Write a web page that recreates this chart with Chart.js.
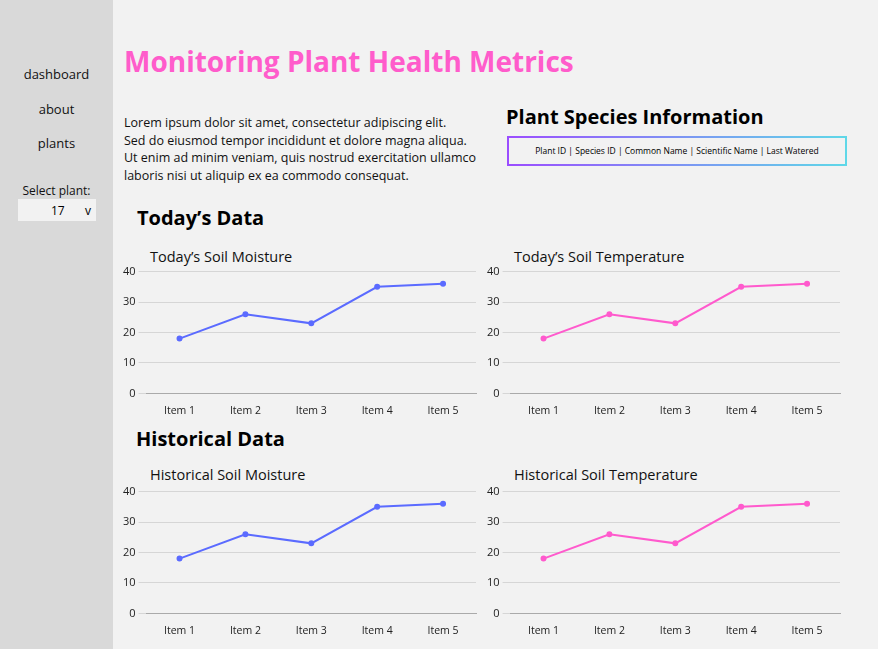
<!DOCTYPE html>
<html>
<head>
<meta charset="utf-8">
<script src="https://cdn.jsdelivr.net/npm/chart.js@4"></script>
<style>
  body { margin: 0; width: 878px; height: 649px; background: #f2f2f2; font-family: "Open Sans", sans-serif; position: relative; overflow: hidden; }
  .side { position: absolute; left: 0; top: 0; width: 113px; height: 649px; background: #d9d9d9; }
  .nav { position: absolute; width: 113px; text-align: center; font-size: 13px; color: #111; }
  .sel { position: absolute; left: 18px; top: 199px; width: 78px; height: 22px; background: #f2f2f2; font-size: 12px; }
  .abs { position: absolute; margin: 0; }
  h1 { font-size: 28px; color: #ff5ccb; font-weight: 700; }
  h2 { font-size: 20px; color: #000; font-weight: 700; }
  .lorem { font-size: 12.5px; line-height: 17.5px; color: #111; }
  .box { position: absolute; left: 507px; top: 136px; width: 340px; height: 30px; border: 2px solid; border-image: linear-gradient(90deg, #9b4dff, #5fd8e8) 1; box-sizing: border-box; font-size: 8.5px; text-align: center; line-height: 26px; }
  .ct { position: absolute; font-size: 14.5px; color: #111; }
  .cw { position: absolute; width: 362px; height: 158px; }
</style>
</head>
<body>
<div class="side"></div>
<div class="nav" style="top:65px">dashboard</div>
<div class="nav" style="top:100px">about</div>
<div class="nav" style="top:134px">plants</div>
<div class="nav" style="top:182px;font-size:12px">Select plant:</div>
<div class="sel"><span style="position:absolute;left:33px;top:3px">17</span><span style="position:absolute;left:67px;top:3px">v</span></div>

<h1 class="abs" style="left:124px;top:42px">Monitoring Plant Health Metrics</h1>
<p class="abs lorem" style="left:124px;top:114px">Lorem ipsum dolor sit amet, consectetur adipiscing elit.<br>Sed do eiusmod tempor incididunt et dolore magna aliqua.<br>Ut enim ad minim veniam, quis nostrud exercitation ullamco<br>laboris nisi ut aliquip ex ea commodo consequat.</p>
<h2 class="abs" style="left:506px;top:103px">Plant Species Information</h2>
<div class="box">Plant ID | Species ID | Common Name | Scientific Name | Last Watered</div>

<h2 class="abs" style="left:137px;top:204px">Today’s Data</h2>
<h2 class="abs" style="left:136px;top:425px">Historical Data</h2>

<div class="ct" style="left:150px;top:247px">Today’s Soil Moisture</div>
<div class="ct" style="left:514px;top:247px">Today’s Soil Temperature</div>
<div class="ct" style="left:150px;top:465px">Historical Soil Moisture</div>
<div class="ct" style="left:514px;top:465px">Historical Soil Temperature</div>

<div class="cw" style="left:120px;top:262px"><canvas id="c1"></canvas></div>
<div class="cw" style="left:484px;top:262px"><canvas id="c2"></canvas></div>
<div class="cw" style="left:120px;top:482px"><canvas id="c3"></canvas></div>
<div class="cw" style="left:484px;top:482px"><canvas id="c4"></canvas></div>

<script>
const items = ["Item 1", "Item 2", "Item 3", "Item 4", "Item 5"];
const todayMoisture = [18, 26, 23, 35, 36];
const todayTemp = [18, 26, 23, 35, 36];
const histMoisture = [18, 26, 23, 35, 36];
const histTemp = [18, 26, 23, 35, 36];
const blue = "#5b6bff";
const pink = "#ff5acd";

function makeChart(id, values, color) {
  new Chart(document.getElementById(id), {
    type: "line",
    data: {
      labels: items,
      datasets: [{ data: values, borderColor: color, backgroundColor: color, borderWidth: 2, pointRadius: 2, tension: 0 }],
    },
    options: {
      responsive: true,
      maintainAspectRatio: false,
      animation: false,
      plugins: { legend: { display: false }, tooltip: { enabled: false } },
      layout: { padding: { top: 2, right: 4 } },
      scales: {
        x: { offset: true, grid: { display: false }, border: { color: "#aaa" }, ticks: { color: "#222", font: { size: 10.5, family: "Open Sans" } } },
        y: { min: 0, max: 40, ticks: { stepSize: 10, color: "#222", font: { size: 11, family: "Open Sans" } }, grid: { color: "#d6d6d6" }, border: { display: false } },
      },
    },
  });
}
makeChart("c1", todayMoisture, blue);
makeChart("c2", todayTemp, pink);
makeChart("c3", histMoisture, blue);
makeChart("c4", histTemp, pink);
</script>
</body>
</html>
